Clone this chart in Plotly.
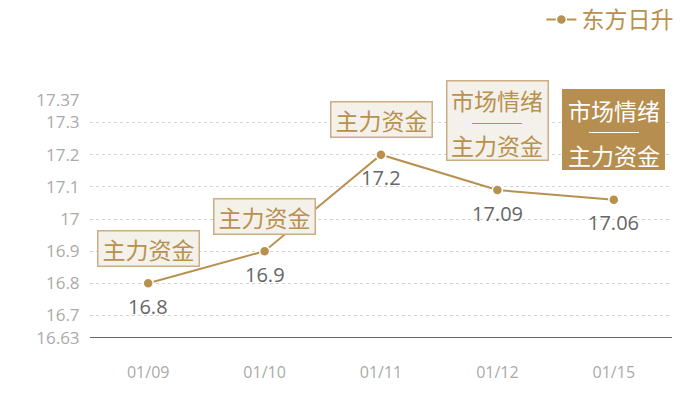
import plotly.graph_objects as go

categories = ["01/09", "01/10", "01/11", "01/12", "01/15"]
values = [16.8, 16.9, 17.2, 17.09, 17.06]
value_labels = ["16.8", "16.9", "17.2", "17.09", "17.06"]
series_name = "东方日升"
tag_top = ["", "", "", "市场情绪", "市场情绪"]
tag_bottom = ["主力资金", "主力资金", "主力资金", "主力资金", "主力资金"]
tag_highlight = [False, False, False, False, True]
y_ticks = [16.63, 16.7, 16.8, 16.9, 17, 17.1, 17.2, 17.3, 17.37]
y_tick_labels = ["16.63", "16.7", "16.8", "16.9", "17", "17.1", "17.2", "17.3", "17.37"]

GOLD = "#b8914f"
DARK_GOLD = "#b58e50"
FONT = "Open Sans, Noto Sans CJK SC, sans-serif"
CJK = "Noto Sans CJK SC, sans-serif"

fig = go.Figure()
fig.add_trace(go.Scatter(
    x=categories, y=values, mode="lines+markers", name=series_name,
    line=dict(color=GOLD, width=2),
    marker=dict(size=10, color=GOLD, line=dict(color="white", width=1.5)),
))

shapes = [dict(type="line", xref="paper", yref="y", x0=0, x1=1, y0=16.63, y1=16.63,
               line=dict(color="#333333", width=1.5), layer="above")]
annotations = []

for cat, val, lab in zip(categories, values, value_labels):
    annotations.append(dict(x=cat, y=val, xref="x", yref="y", text=lab, showarrow=False,
                            yanchor="middle", yshift=-23,
                            font=dict(family=FONT, size=20, color="#666666")))

for cat, val, top, bot, hl in zip(categories, values, tag_top, tag_bottom, tag_highlight):
    fill = DARK_GOLD if hl else "#f4f0ea"
    border = DARK_GOLD if hl else "#cbae84"
    tcol = "white" if hl else GOLD
    if top:
        annotations.append(dict(x=cat, y=val, xref="x", yref="y", text=" ", showarrow=False,
                                width=100, height=78, yanchor="middle", yshift=70,
                                bgcolor=fill, bordercolor=border, borderwidth=1.5, borderpad=0))
        annotations.append(dict(x=cat, y=val, xref="x", yref="y", text=top, showarrow=False,
                                yanchor="middle", yshift=90,
                                font=dict(family=CJK, size=23, color=tcol)))
        annotations.append(dict(x=cat, y=val, xref="x", yref="y", text=" ", showarrow=False,
                                width=50, height=1, yanchor="middle", yshift=67,
                                bgcolor=tcol, borderwidth=0, borderpad=0,
                                font=dict(size=1)))
        annotations.append(dict(x=cat, y=val, xref="x", yref="y", text=bot, showarrow=False,
                                yanchor="middle", yshift=45,
                                font=dict(family=CJK, size=23, color=tcol)))
    else:
        annotations.append(dict(x=cat, y=val, xref="x", yref="y", text=bot, showarrow=False,
                                width=100, height=34, yanchor="middle", yshift=35,
                                bgcolor=fill, bordercolor=border, borderwidth=1.5, borderpad=0,
                                font=dict(family=CJK, size=23, color=tcol)))

fig.update_layout(
    width=700, height=400,
    margin=dict(l=82, r=36, t=92, b=70, autoexpand=False),
    paper_bgcolor="white", plot_bgcolor="white",
    font=dict(family=FONT),
    showlegend=True,
    legend=dict(x=1.011, y=1.338, xref="paper", yref="paper", xanchor="right", yanchor="middle",
                font=dict(family=CJK, size=23, color=GOLD), bgcolor="rgba(0,0,0,0)",
                itemwidth=30),
    xaxis=dict(
        type="category", range=[-0.5, 4.5], showgrid=False, showline=False, zeroline=False,
        ticks="outside", ticklen=20, tickcolor="rgba(0,0,0,0)",
        tickfont=dict(family=FONT, size=16, color="#aaaaaa"),
    ),
    yaxis=dict(
        range=[16.63, 17.37], tickvals=y_ticks, ticktext=y_tick_labels,
        showgrid=True, gridcolor="#d4d4d4", griddash="3px,3px", gridwidth=1,
        zeroline=False, showline=False,
        ticks="outside", ticklen=6, tickcolor="rgba(0,0,0,0)",
        tickfont=dict(family=FONT, size=17, color="#aaaaaa"),
    ),
    shapes=shapes,
    annotations=annotations,
)

fig.write_html("out.html")
